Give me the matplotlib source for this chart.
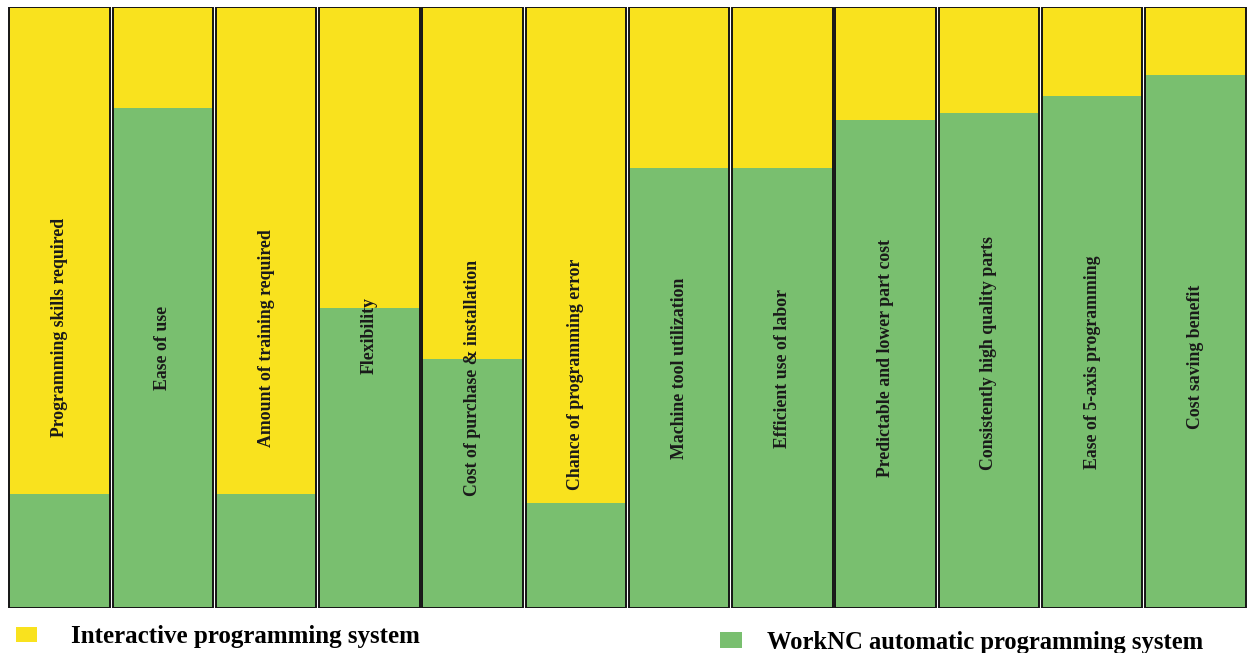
import matplotlib
matplotlib.use("Agg")
import matplotlib.pyplot as plt
from matplotlib.patches import Patch
from matplotlib.font_manager import FontProperties
import numpy as np

# ---- data ----
categories = [
    "Programming skills required",
    "Ease of use",
    "Amount of training required",
    "Flexibility",
    "Cost of purchase & installation",
    "Chance of programming error",
    "Machine tool utilization",
    "Efficient use of labor",
    "Predictable and lower part cost",
    "Consistently high quality parts",
    "Ease of 5-axis programming",
    "Cost saving benefit",
]
worknc_pct = [19.0, 83.2, 19.0, 50.0, 41.5, 17.5, 73.2, 73.2, 81.2, 82.3, 85.2, 88.7]
interactive_pct = [100 - v for v in worknc_pct]
series_names = ["Interactive programming system", "WorkNC automatic programming system"]

# ---- layout (label vertical centres, % of bar height) ----
label_centre = [46.6, 43.3, 44.9, 45.4, 38.3, 38.9, 39.8, 39.9, 41.6, 42.4, 40.9, 41.8]

YELLOW = "#F9E21E"
GREEN = "#79BF6F"

W, H = 1249, 653
fig = plt.figure(figsize=(W / 100, H / 100), dpi=100)
ax = fig.add_axes([8 / W, 1 - 608 / H, 1239 / W, 601 / H])

x = np.arange(len(categories))
bw = 0.975
ax.bar(x, worknc_pct, width=bw, color=GREEN, edgecolor="none", zorder=1)
ax.bar(x, interactive_pct, bottom=worknc_pct, width=bw, color=YELLOW, edgecolor="none", zorder=1)
ax.bar(x, np.add(worknc_pct, interactive_pct), width=bw, fill=False,
       edgecolor="#151515", linewidth=1.4, zorder=2)

for xi, lab, yc in zip(x, categories, label_centre):
    ax.text(xi, yc, lab, rotation=90, ha="center", va="center",
            family="Liberation Serif", fontweight="bold", fontsize=12.8,
            color="#1a1a1a", zorder=3)

ax.set_xlim(-0.5, len(categories) - 0.5)
ax.set_ylim(0, 100)
ax.axis("off")

fp1 = FontProperties(family="Liberation Serif", weight="bold", size=18)
fp2 = FontProperties(family="Liberation Serif", weight="bold", size=17.7)
fig.legend(handles=[Patch(facecolor=YELLOW, edgecolor="none")], labels=[series_names[0]],
           loc="center left", bbox_to_anchor=(16 / W, 1 - 637 / H), frameon=False,
           borderpad=0, borderaxespad=0, handlelength=0.85, handleheight=0.55,
           handletextpad=1.35, prop=fp1)
fig.legend(handles=[Patch(facecolor=GREEN, edgecolor="none")], labels=[series_names[1]],
           loc="center left", bbox_to_anchor=(720 / W, 1 - 642 / H), frameon=False,
           borderpad=0, borderaxespad=0, handlelength=0.88, handleheight=0.62,
           handletextpad=1.05, prop=fp2)

fig.savefig("out.png", dpi=100)
